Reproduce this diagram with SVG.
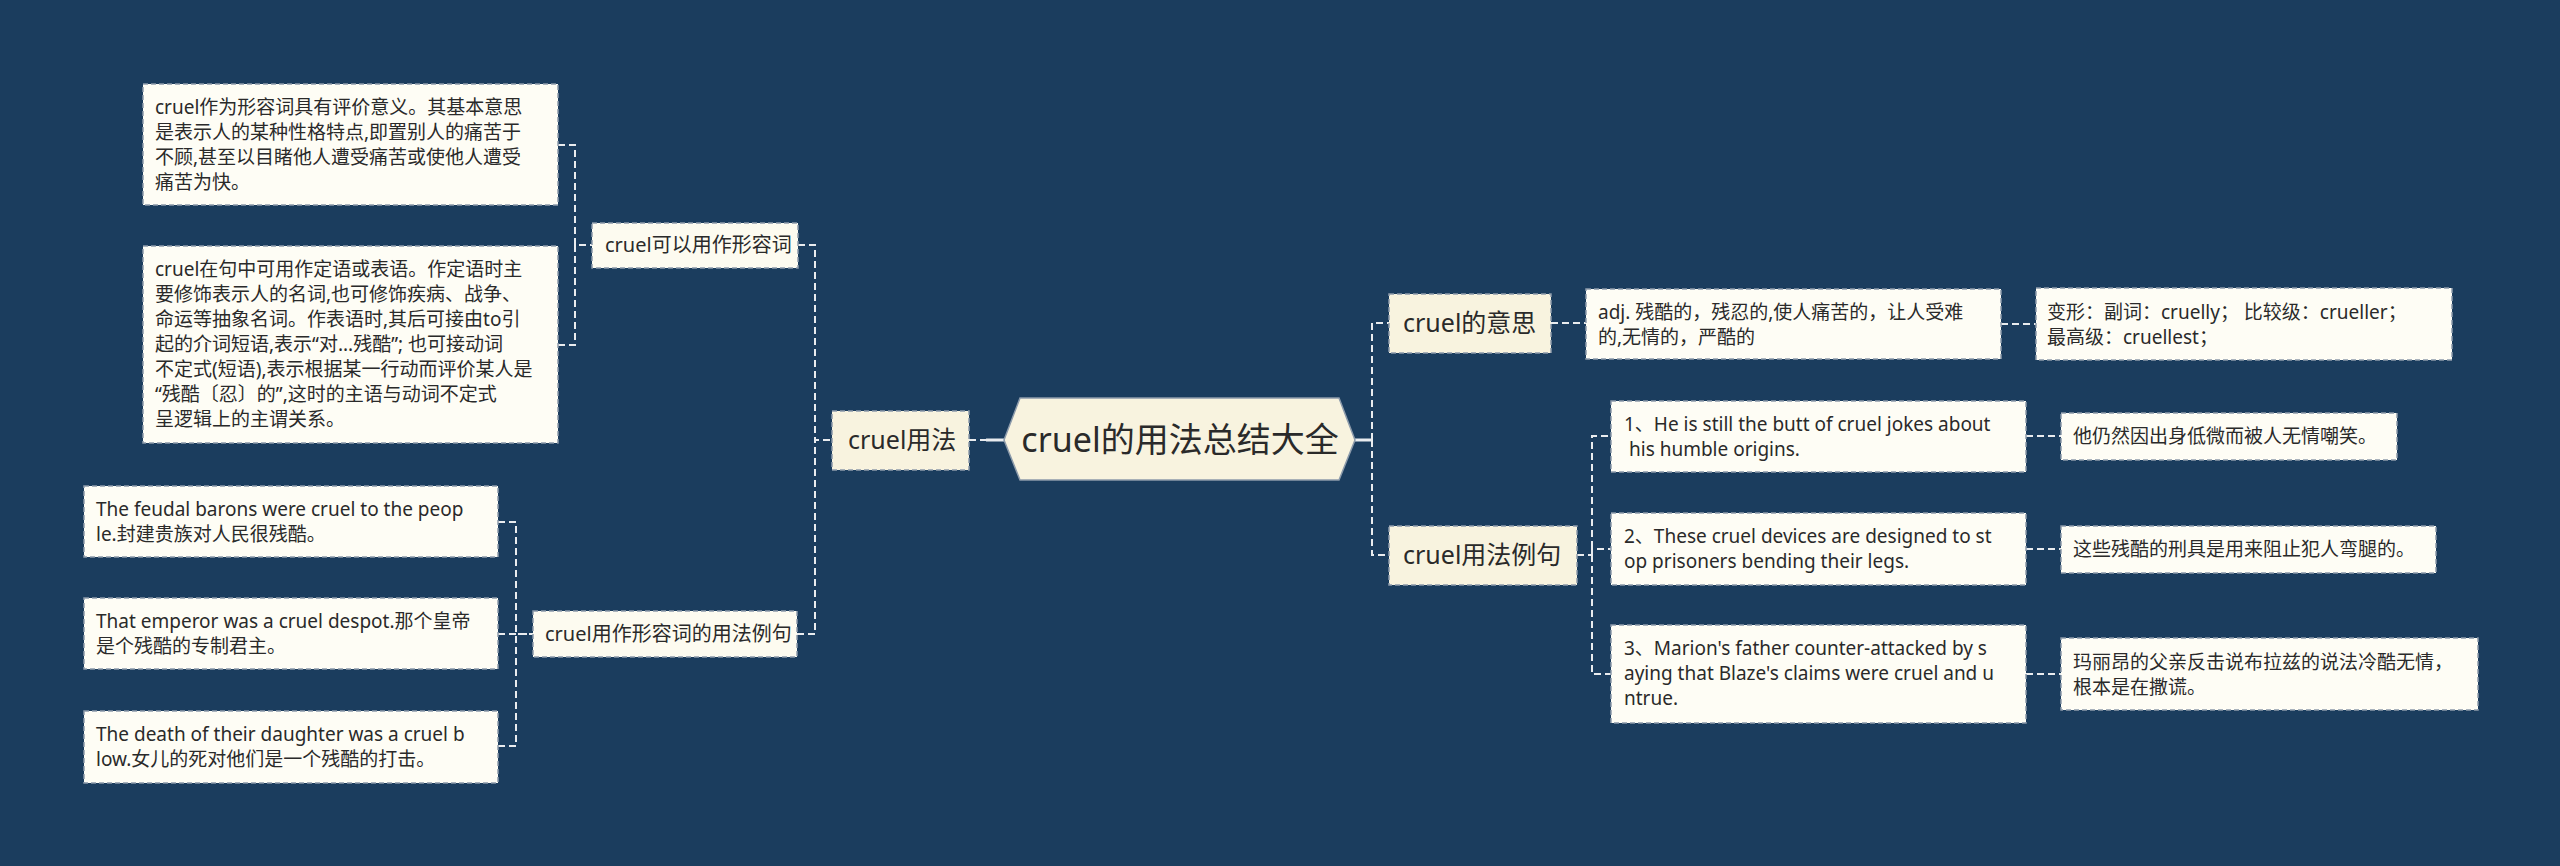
<svg xmlns="http://www.w3.org/2000/svg" width="2560" height="866" viewBox="0 0 2560 866">
<style>
.bg{fill:#1b3d5e}
.leaf{fill:#fefdf5;stroke:#8d9bab;stroke-width:1.5;stroke-dasharray:5 3}
.mid{fill:#fdfbf0;stroke:#8d9bab;stroke-width:1.5;stroke-dasharray:5 3}
.l2{fill:#f8f3df;stroke:#8d9bab;stroke-width:1.5;stroke-dasharray:5 3}
.root{fill:#f8f3df;stroke:#8d9bab;stroke-width:1.5}
.c{fill:none;stroke:#e9ecef;stroke-width:2;stroke-dasharray:7 4}
.cs{fill:none;stroke:#e9ecef;stroke-width:3}
text{font-family:"Noto Sans","Noto Sans CJK SC",sans-serif;fill:#2a2a2a}
.t19{font-size:19px}
.t20{font-size:20px}
.t25{font-size:25px}
.t34{font-size:34px}
</style>
<rect class="bg" x="0" y="0" width="2560" height="866"/>
<g id="connectors">
<path class="c" d="M558 145H575V245H592"/>
<path class="c" d="M558 345H575V245H592"/>
<path class="c" d="M498 522H516V634H533"/>
<path class="c" d="M498 634H533"/>
<path class="c" d="M498 746H516V634H533"/>
<path class="c" d="M798 245H815V440H832"/>
<path class="c" d="M797 634H815V440H832"/>
<path class="c" d="M969 440H986"/>
<path class="cs" d="M986 440H1004"/>
<path class="cs" d="M1355 440H1372"/>
<path class="c" d="M1372 440V323H1389"/>
<path class="c" d="M1372 440V555H1389"/>
<path class="c" d="M1551 323H1586"/>
<path class="c" d="M2001 324H2036"/>
<path class="c" d="M1577 555H1592V436H1611"/>
<path class="c" d="M1592 555V549H1611"/>
<path class="c" d="M1592 555V674H1611"/>
<path class="c" d="M2026 436H2061"/>
<path class="c" d="M2026 549H2061"/>
<path class="c" d="M2026 674H2061"/>
</g>
<g id="root">
<polygon class="root" points="1004,440 1020,398 1339,398 1355,440 1339,480 1020,480"/>
<text class="t34" x="1180" y="452" text-anchor="middle">cruel的用法总结大全</text>
</g>
<g id="n-usage">
<rect class="l2" x="832" y="411" width="137" height="59"/>
<text class="t25" x="848" y="449">cruel用法</text>
</g>
<g id="n-adj">
<rect class="mid" x="592" y="223" width="206" height="45"/>
<text class="t20" x="605" y="252">cruel可以用作形容词</text>
</g>
<g id="n-adj-examples">
<rect class="mid" x="533" y="611" width="264" height="46"/>
<text class="t20" x="545" y="641">cruel用作形容词的用法例句</text>
</g>
<g id="leaf-a">
<rect class="leaf" x="143" y="84" width="415" height="121"/>
<text class="t19"><tspan x="155" y="114">cruel作为形容词具有评价意义。其基本意思</tspan><tspan x="155" y="139">是表示人的某种性格特点,即置别人的痛苦于</tspan><tspan x="155" y="164">不顾,甚至以目睹他人遭受痛苦或使他人遭受</tspan><tspan x="155" y="189">痛苦为快。</tspan></text>
</g>
<g id="leaf-b">
<rect class="leaf" x="143" y="246" width="415" height="197"/>
<text class="t19"><tspan x="155" y="276">cruel在句中可用作定语或表语。作定语时主</tspan><tspan x="155" y="301">要修饰表示人的名词,也可修饰疾病、战争、</tspan><tspan x="155" y="326">命运等抽象名词。作表语时,其后可接由to引</tspan><tspan x="155" y="351">起的介词短语,表示“对...残酷”; 也可接动词</tspan><tspan x="155" y="376">不定式(短语),表示根据某一行动而评价某人是</tspan><tspan x="155" y="401">“残酷〔忍〕的”,这时的主语与动词不定式</tspan><tspan x="155" y="426">呈逻辑上的主谓关系。</tspan></text>
</g>
<g id="leaf-s1">
<rect class="leaf" x="84" y="486" width="414" height="71"/>
<text class="t19"><tspan x="96" y="516">The feudal barons were cruel to the peop</tspan><tspan x="96" y="541">le.封建贵族对人民很残酷。</tspan></text>
</g>
<g id="leaf-s2">
<rect class="leaf" x="84" y="598" width="414" height="71"/>
<text class="t19"><tspan x="96" y="628">That emperor was a cruel despot.那个皇帝</tspan><tspan x="96" y="653">是个残酷的专制君主。</tspan></text>
</g>
<g id="leaf-s3">
<rect class="leaf" x="84" y="711" width="414" height="72"/>
<text class="t19"><tspan x="96" y="741">The death of their daughter was a cruel b</tspan><tspan x="96" y="766">low.女儿的死对他们是一个残酷的打击。</tspan></text>
</g>
<g id="n-meaning">
<rect class="l2" x="1389" y="294" width="162" height="59"/>
<text class="t25" x="1403" y="332">cruel的意思</text>
</g>
<g id="n-examples">
<rect class="l2" x="1389" y="526" width="188" height="59"/>
<text class="t25" x="1403" y="564">cruel用法例句</text>
</g>
<g id="leaf-adj">
<rect class="leaf" x="1586" y="289" width="415" height="70"/>
<text class="t19"><tspan x="1598" y="319">adj. 残酷的，残忍的,使人痛苦的，让人受难</tspan><tspan x="1598" y="344">的,无情的，严酷的</tspan></text>
</g>
<g id="leaf-forms">
<rect class="leaf" x="2036" y="288" width="416" height="72"/>
<text class="t19"><tspan x="2047" y="319">变形：副词：cruelly； 比较级：crueller；</tspan><tspan x="2047" y="344">最高级：cruellest；</tspan></text>
</g>
<g id="leaf-e1">
<rect class="leaf" x="1611" y="401" width="415" height="71"/>
<text class="t19"><tspan x="1624" y="431">1、He is still the butt of cruel jokes about</tspan><tspan x="1629" y="456">his humble origins.</tspan></text>
</g>
<g id="leaf-e2">
<rect class="leaf" x="1611" y="513" width="415" height="72"/>
<text class="t19"><tspan x="1624" y="543">2、These cruel devices are designed to st</tspan><tspan x="1624" y="568">op prisoners bending their legs.</tspan></text>
</g>
<g id="leaf-e3">
<rect class="leaf" x="1611" y="625" width="415" height="98"/>
<text class="t19"><tspan x="1624" y="655">3、Marion's father counter-attacked by s</tspan><tspan x="1624" y="680">aying that Blaze's claims were cruel and u</tspan><tspan x="1624" y="705">ntrue.</tspan></text>
</g>
<g id="leaf-t1">
<rect class="leaf" x="2061" y="413" width="336" height="47"/>
<text class="t19" x="2073" y="443">他仍然因出身低微而被人无情嘲笑。</text>
</g>
<g id="leaf-t2">
<rect class="leaf" x="2061" y="526" width="375" height="47"/>
<text class="t19" x="2073" y="556">这些残酷的刑具是用来阻止犯人弯腿的。</text>
</g>
<g id="leaf-t3">
<rect class="leaf" x="2061" y="638" width="417" height="72"/>
<text class="t19"><tspan x="2073" y="669">玛丽昂的父亲反击说布拉兹的说法冷酷无情，</tspan><tspan x="2073" y="694">根本是在撒谎。</tspan></text>
</g>
</svg>
